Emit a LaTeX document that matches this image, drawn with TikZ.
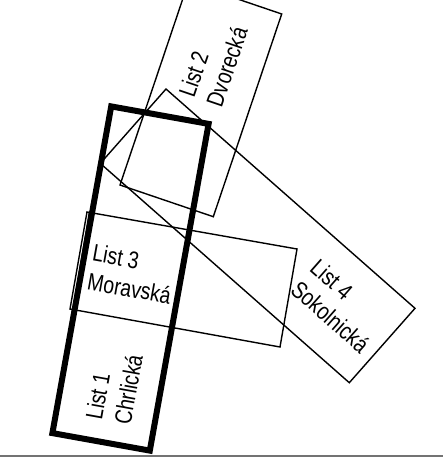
\documentclass[tikz,border=0pt]{standalone}
\usepackage{fontspec}
\setmainfont{Liberation Sans}
\begin{document}
\begin{tikzpicture}[x=1bp,y=-1bp,
  sheet/.style={line width=1.4bp, line join=miter},
  heavy/.style={line width=6bp, line join=miter},
  lbl/.style={font=\fontsize{24bp}{29bp}\selectfont, align=left, inner sep=0pt, xscale=0.81, transform shape},
  baseline rule/.style={line width=1.5bp, black!55}]
\useasboundingbox (0,0) rectangle (443,462);
\clip (0,0) rectangle (443,462);
% List 4
\coordinate (d1) at (166,89);
\coordinate (d2) at (415,308.3);
\coordinate (d3) at (349.3,382.7);
\coordinate (d4) at (100.3,163.4);
\draw[sheet] (d1) -- (d2) -- (d3) -- (d4) -- cycle;
% List 2
\coordinate (b1) at (188.4,-17.7);
\coordinate (b2) at (281.7,14);
\coordinate (b3) at (213.3,216.7);
\coordinate (b4) at (120,185);
\draw[sheet] (b1) -- (b2) -- (b3) -- (b4) -- cycle;
% List 3
\coordinate (c1) at (87,212);
\coordinate (c2) at (297,249);
\coordinate (c3) at (280,347);
\coordinate (c4) at (70,309);
\draw[sheet] (c1) -- (c2) -- (c3) -- (c4) -- cycle;
\coordinate (e1) at (89.5,211.5);
\coordinate (e2) at (73,309.5);
\draw[sheet] (e1) -- (e2);
% thick column
\coordinate (a1) at (111.2,106.4);
\coordinate (a2) at (208.6,123.9);
\coordinate (a3) at (149.8,450.6);
\coordinate (a4) at (52.4,433.1);
\draw[heavy] (a1) -- (a2) -- (a3) -- (a4) -- cycle;
% bottom rule
\coordinate (r1) at (0,456);
\coordinate (r2) at (443,456);
\draw[baseline rule] (r1) -- (r2);
% labels
\node[rotate=-10.2, lbl] (l3) at (132,274) {List 3\\Moravská};
\node[rotate=79.8, lbl] (l1) at (114,387) {List 1\\Chrlická};
\node[rotate=71.2, lbl] (l2) at (213,62) {List 2\\Dvorecká};
\node[rotate=-41.4, lbl] (l4) at (340,306) {List 4\\Sokolnická};
\end{tikzpicture}
\end{document}
